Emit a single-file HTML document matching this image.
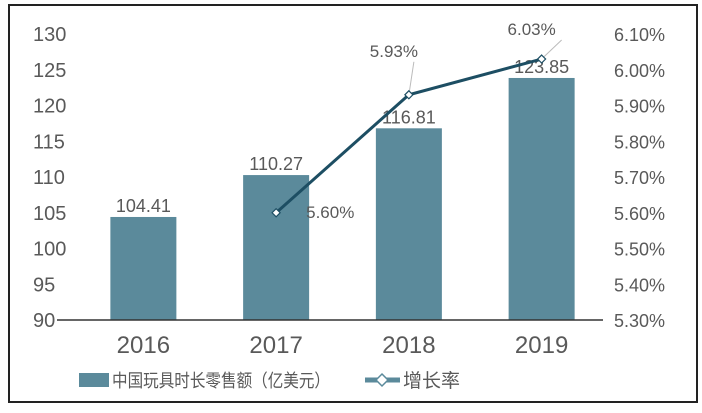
<!DOCTYPE html>
<html><head><meta charset="utf-8"><style>
body{margin:0;background:#fff;width:702px;height:408px;overflow:hidden}
svg text{font-family:"Liberation Sans","Noto Sans CJK SC",sans-serif;fill:#595959}
</style></head><body>
<svg width="702" height="408">
<rect x="9" y="5" width="688" height="397" fill="#fff" stroke="#222" stroke-width="2"/>
<g id="g"></g>
</svg>
<script>
const categories=["2016","2017","2018","2019"];
const sales=[104.41,110.27,116.81,123.85];
const growth=[null,5.60,5.93,6.03];
const leftTicks=[90,95,100,105,110,115,120,125,130];
const rightTicks=[5.30,5.40,5.50,5.60,5.70,5.80,5.90,6.00,6.10];
const g=document.getElementById('g');
const NS='http://www.w3.org/2000/svg';
function mk(t,a,txt){const e=document.createElementNS(NS,t);for(const k in a)e.setAttribute(k,a[k]);if(txt!=null)e.textContent=txt;g.appendChild(e);return e;}
const x0=77,x1=608,yT=34,yB=320;
const bw=(x1-x0)/categories.length;
const xc=i=>x0+bw*(i+0.5);
const yL=v=>yB-(v-90)/(130-90)*(yB-yT);
const yR=v=>yB-(v-5.30)/(6.10-5.30)*(yB-yT);
leftTicks.forEach(t=>{const e=mk('text',{x:33,y:yL(t)+7,'font-size':20},t);

});
rightTicks.forEach(t=>{const e=mk('text',{x:614,y:yR(t)+7,'font-size':18},t.toFixed(2)+'%');

});
sales.forEach((v,i)=>{const b=mk('rect',{x:xc(i)-33,y:yL(v),width:66,height:yB-yL(v),fill:'#5b8a9b'});


const l=mk('text',{x:xc(i),y:yL(v)-5,'text-anchor':'middle','font-size':18},v.toFixed(2));


const c=mk('text',{x:xc(i),y:353,'text-anchor':'middle','font-size':24},categories[i]);

});
const ax=mk('line',{x1:57,x2:603,y1:yB,y2:yB,stroke:'#333','stroke-width':1.5});


const pts=[];growth.forEach((v,i)=>{if(v!=null)pts.push([xc(i),yR(v),v]);});
const pl=mk('polyline',{points:pts.map(p=>p[0]+','+p[1]).join(' '),fill:'none',stroke:'#1d4e63','stroke-width':3});


const offs=[[30,5],[-15,-38],[-10,-24]];
pts.forEach((p,i)=>{
if(i>0){const ll=mk('line',{x1:p[0],y1:p[1],x2:p[0]+offs[i][0]+(i==1?20:30),y2:p[1]+offs[i][1]+5,stroke:'#bbb','stroke-width':1});

}
const m=mk('path',{d:`M${p[0]} ${p[1]-4}L${p[0]+4} ${p[1]}L${p[0]} ${p[1]+4}L${p[0]-4} ${p[1]}Z`,fill:'#fff',stroke:'#1d4e63','stroke-width':1.2});


const t=mk('text',{x:p[0]+offs[i][0],y:p[1]+offs[i][1],'font-size':17,'text-anchor':i==0?'start':'middle'},p[2].toFixed(2)+'%');

});
const s=mk('rect',{x:79,y:373,width:30,height:14,fill:'#5b8a9b'});


const lt=mk('text',{x:112,y:387,'font-size':18,textLength:218,lengthAdjust:'spacingAndGlyphs'},'中国玩具时长零售额（亿美元）');


const lg=mk('line',{x1:365,x2:400,y1:380,y2:380,stroke:'#5b8a9b','stroke-width':5});


const lm=mk('path',{d:'M382 374L388 380L382 386L376 380Z',fill:'#fff',stroke:'#5b8a9b','stroke-width':1.5});


const lt2=mk('text',{x:403,y:387,'font-size':19},'增长率');


</script>
</body></html>
